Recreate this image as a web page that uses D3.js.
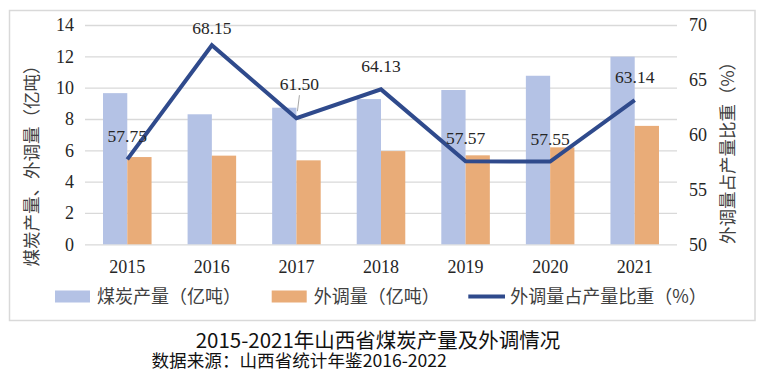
<!DOCTYPE html>
<html><head><meta charset="utf-8">
<script src="https://cdn.jsdelivr.net/npm/d3@7"></script>
<style>
html,body{margin:0;padding:0;background:#fff;}
svg{display:block;}
</style></head>
<body>
<svg id="chart" width="768" height="382"></svg>
<script>
// ---- data ----
const years = ["2015","2016","2017","2018","2019","2020","2021"];
const production = [9.65, 8.30, 8.72, 9.27, 9.85, 10.76, 11.98];   // 煤炭产量（亿吨）
const outbound   = [5.57, 5.66, 5.36, 5.95, 5.68, 6.19, 7.56];     // 外调量（亿吨）
const share      = [57.75, 68.15, 61.50, 64.13, 57.57, 57.55, 63.14]; // 外调量占产量比重（%）
const leftTicks  = [0, 2, 4, 6, 8, 10, 12, 14];
const rightTicks = [50, 55, 60, 65, 70];
const seriesNames = ["煤炭产量（亿吨）", "外调量（亿吨）", "外调量占产量比重（%）"];
const leftTitle  = "煤炭产量、外调量（亿吨）";
const rightTitle = "外调量占产量比重（%）";
const chartTitle = "2015-2021年山西省煤炭产量及外调情况";
const sourceNote = "数据来源：山西省统计年鉴2016-2022";

// ---- layout / style ----
const C = {blue:"#B4C2E5", orange:"#E9AC78", line:"#2F4A8C", grid:"#D9D9D9", frame:"#D9D9D9", text:"#262626"};
const serif = "'Liberation Serif','Times New Roman',serif";
const cjk = "'Noto Sans CJK SC','Noto Sans',sans-serif";
const plot = {left:85, right:677, top:25, bottom:244.3};
// per-point label nudges (px above point)
const labelLift = {"2016":17, "2017":34};

const svg = d3.select("#chart");

// frame
svg.append("rect").attr("x",9.5).attr("y",10.5).attr("width",745.5).attr("height",310)
  .attr("fill","#fff").attr("stroke",C.frame).attr("stroke-width",1.5);

const x0 = d3.scaleBand().domain(years).range([plot.left, plot.right])
  .paddingInner(0.426).paddingOuter(0.213);
const keys = ["production","outbound"];
const x1 = d3.scaleBand().domain(keys).range([0, x0.bandwidth()]);
const yL = d3.scaleLinear().domain([0,14]).range([plot.bottom, plot.top]);
const yR = d3.scaleLinear().domain([50,70]).range([plot.bottom, plot.top]);

// gridlines via left axis
const gL = svg.append("g").attr("transform",`translate(${plot.left},0)`)
  .call(d3.axisLeft(yL).tickValues(leftTicks).tickSize(-(plot.right-plot.left)).tickPadding(11));
gL.select(".domain").remove();
gL.selectAll(".tick line").attr("stroke",C.grid).attr("stroke-width",1.3);
gL.selectAll(".tick text").attr("font-family",serif).attr("font-size",18).attr("fill",C.text).attr("dy","0.33em");

const gR = svg.append("g").attr("transform",`translate(${plot.right},0)`)
  .call(d3.axisRight(yR).tickValues(rightTicks).tickSize(0).tickPadding(12));
gR.select(".domain").remove();
gR.selectAll(".tick text").attr("font-family",serif).attr("font-size",18).attr("fill",C.text).attr("dy","0.33em");

// x axis labels
const gX = svg.append("g").attr("transform",`translate(0,${plot.bottom})`)
  .call(d3.axisBottom(x0).tickSize(0).tickPadding(16));
gX.select(".domain").remove();
gX.selectAll(".tick text").attr("font-family",serif).attr("font-size",18).attr("fill",C.text);

// bars
const rows = years.map((y,i)=>({year:y, production:production[i], outbound:outbound[i], share:share[i]}));
const colors = {production:C.blue, outbound:C.orange};
const groups = svg.append("g").selectAll("g").data(rows).join("g")
  .attr("transform",d=>`translate(${x0(d.year)},0)`);
groups.selectAll("rect").data(d=>keys.map(k=>({key:k, value:d[k]}))).join("rect")
  .attr("x",d=>x1(d.key)).attr("width",x1.bandwidth())
  .attr("y",d=>yL(d.value)).attr("height",d=>yL(0)-yL(d.value))
  .attr("fill",d=>colors[d.key]);

// line
const cx = d=>x0(d.year)+x0.bandwidth()/2;
const line = d3.line().x(cx).y(d=>yR(d.share));
svg.append("path").datum(rows).attr("d",line)
  .attr("fill","none").attr("stroke",C.line).attr("stroke-width",4)
  .attr("stroke-linejoin","miter");

// leader line for 2017
rows.filter(d=>d.year==="2017").forEach(d=>{
  svg.append("line").attr("x1",cx(d)+1).attr("y1",yR(d.share)-7)
    .attr("x2",cx(d)+3).attr("y2",yR(d.share)-23)
    .attr("stroke","#A6A6A6").attr("stroke-width",1);
});

// data labels
svg.append("g").selectAll("text").data(rows).join("text")
  .attr("x",d=>cx(d)+(d.year==="2017"?3:0))
  .attr("y",d=>yR(d.share)-(labelLift[d.year]||23))
  .attr("dy","0.35em")
  .attr("text-anchor","middle").style("font-family",serif).style("font-size","17.5px").attr("fill",C.text)
  .text(d=>d.share.toFixed(2));

// axis titles
svg.append("text").attr("transform",`translate(38,161.5) rotate(-90)`)
  .attr("text-anchor","middle").attr("font-family",cjk).attr("font-size",17.5).attr("fill","#404040")
  .text(leftTitle);
svg.append("text").attr("transform",`translate(734,148.5) rotate(-90)`)
  .attr("text-anchor","middle").attr("font-family",cjk).attr("font-size",17.5).attr("fill","#404040")
  .text(rightTitle);

// legend
const legY = 296.5;
const leg = svg.append("g");
const legItems = [
  {name:seriesNames[0], type:"rect", color:C.blue, x:55},
  {name:seriesNames[1], type:"rect", color:C.orange, x:271.7},
  {name:seriesNames[2], type:"line", color:C.line, x:468.3}
];
legItems.forEach(it=>{
  if(it.type==="rect"){
    leg.append("rect").attr("x",it.x).attr("y",legY-6).attr("width",35).attr("height",12).attr("fill",it.color);
  } else {
    leg.append("line").attr("x1",it.x).attr("x2",it.x+36.7).attr("y1",legY).attr("y2",legY)
      .attr("stroke",it.color).attr("stroke-width",4);
  }
  leg.append("text").attr("x",it.x+42).attr("y",legY).attr("dy","0.35em")
    .attr("font-family",cjk).attr("font-size",18).attr("fill","#404040").text(it.name);
});

// titles below
svg.append("text").attr("x",378).attr("y",340.5).attr("dy","0.35em").attr("text-anchor","middle")
  .attr("font-family",cjk).attr("font-size",20.5).attr("fill","#111").text(chartTitle);
svg.append("text").attr("x",151.5).attr("y",361).attr("dy","0.35em")
  .attr("font-family",cjk).attr("font-size",17.6).attr("fill","#111").text(sourceNote);
</script>
</body></html>
